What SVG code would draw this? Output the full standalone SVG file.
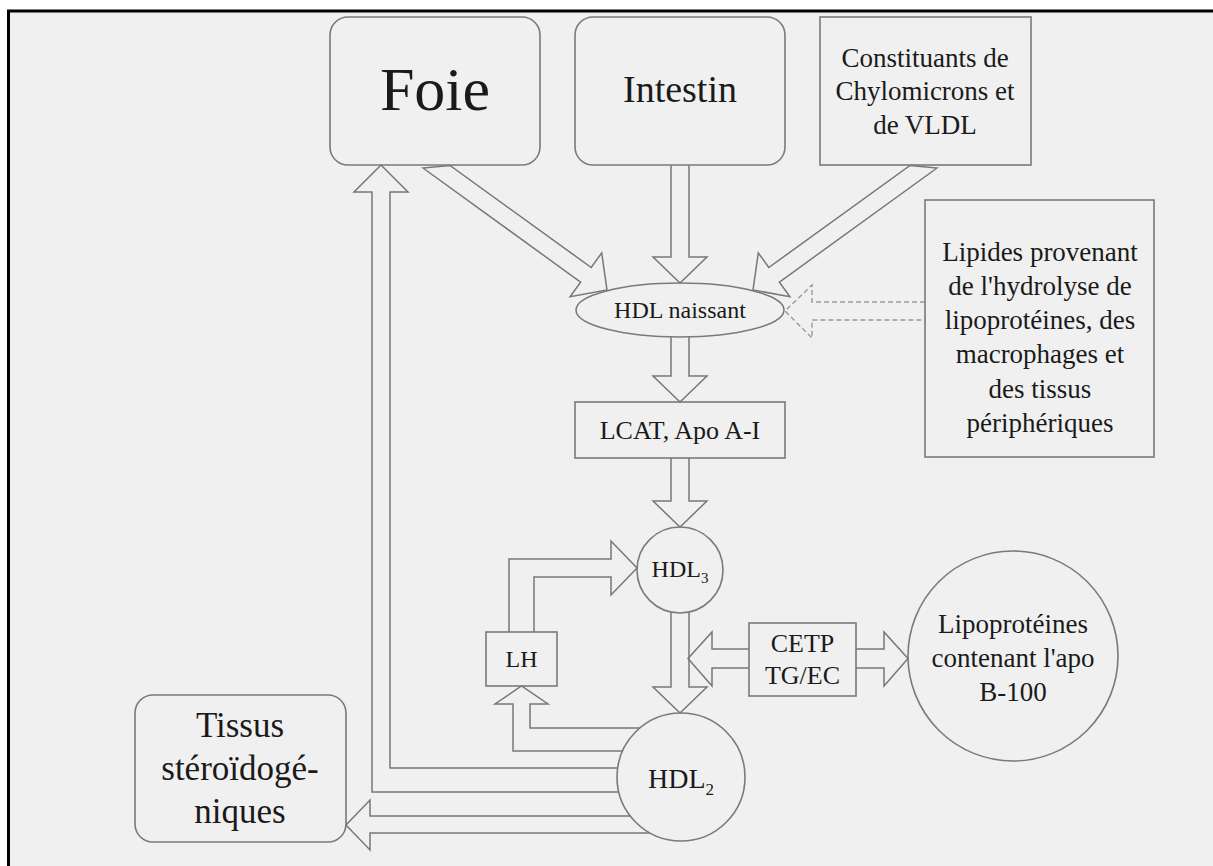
<svg xmlns="http://www.w3.org/2000/svg" width="1213" height="866" viewBox="0 0 1213 866">
<style>
.bx{fill:none;stroke:#7a7a7a;stroke-width:1.6}
.ar{fill:none;stroke:#777;stroke-width:1.5;stroke-linejoin:miter}
.da{fill:none;stroke:#999;stroke-width:1.4;stroke-dasharray:5 3}
.t{fill:#1a1a1a;text-anchor:middle}
</style>
<rect x="0" y="0" width="1213" height="866" fill="#ffffff"/>
<rect x="8" y="10" width="1205" height="856" fill="#f0f0f0"/>
<line x1="7" y1="11" x2="1213" y2="11" stroke="#000" stroke-width="3"/>
<line x1="8.5" y1="10" x2="8.5" y2="866" stroke="#000" stroke-width="3"/>

<g id="connectors">
<path class="ar" d="M423,168 L580.6,282.1 L570.1,296.7 L607,290 L601.7,252.9 L591.2,267.5 L450,165.5 Z"/>
<path class="ar" d="M937,168 L779.4,282.1 L789.9,296.7 L753,290 L758.3,252.9 L768.8,267.5 L910,165.5 Z"/>
<path class="ar" d="M671,165 L671,257 L653,257 L680,283 L707,257 L689,257 L689,165"/>
<path class="da" d="M925,302 L812,302 L812,285 L785,311 L812,338 L812,320 L925,320"/>
<path class="ar" d="M671,337 L671,376 L653,376 L680,402 L707,376 L689,376 L689,337"/>
<path class="ar" d="M671,458 L671,501 L653,501 L680,527 L707,501 L689,501 L689,458"/>
<path class="ar" d="M671,612 L671,687 L653,687 L680,713 L707,687 L689,687 L689,612"/>
<path class="ar" d="M749,649 L712,649 L712,632 L688,658.5 L712,686 L712,668 L749,668"/>
<path class="ar" d="M856,649 L884,649 L884,632 L908,658.5 L884,686 L884,668 L856,668"/>
<path class="ar" d="M509,632 L509,559 L611,559 L611,541 L637,568 L611,595 L611,577 L534,577 L534,632"/>
<path class="ar" d="M622.5,751 L513,751 L513,704 L495,704 L521.5,686 L548,704 L530,704 L530,728 L640,728"/>
<path class="ar" d="M618.8,792 L372,792 L372,192 L354,192 L381,165 L408,192 L390,192 L390,768 L617.6,768"/>
<path class="ar" d="M630,816 L370,816 L370,800 L346,825 L370,850 L370,833 L650,833"/>
</g>

<g font-family="'Liberation Serif', 'DejaVu Serif', serif">
<g id="foie">
<rect class="bx" x="330" y="17" width="210" height="148" rx="18"/>
<text class="t" x="435" y="110" font-size="62">Foie</text>
</g>
<g id="intestin">
<rect class="bx" x="575" y="17" width="210" height="148" rx="18"/>
<text class="t" x="680" y="102" font-size="38">Intestin</text>
</g>
<g id="constituants">
<rect class="bx" x="820" y="17" width="211" height="148"/>
<text class="t" x="925" y="67" font-size="27">Constituants de</text>
<text class="t" x="925" y="100" font-size="27">Chylomicrons et</text>
<text class="t" x="925" y="134" font-size="27">de VLDL</text>
</g>
<g id="lipides">
<rect class="bx" x="925" y="200" width="229" height="257"/>
<text class="t" x="1040" y="261" font-size="27">Lipides provenant</text>
<text class="t" x="1040" y="295" font-size="27">de l'hydrolyse de</text>
<text class="t" x="1040" y="329" font-size="27">lipoprotéines, des</text>
<text class="t" x="1040" y="363" font-size="27">macrophages et</text>
<text class="t" x="1040" y="398" font-size="27">des tissus</text>
<text class="t" x="1040" y="432" font-size="27">périphériques</text>
</g>
<g id="hdl-naissant">
<ellipse class="bx" cx="680" cy="310" rx="104" ry="27"/>
<text class="t" x="680" y="318" font-size="24">HDL naissant</text>
</g>
<g id="lcat">
<rect class="bx" x="575" y="402" width="210" height="56"/>
<text class="t" x="680" y="439" font-size="26">LCAT, Apo A-I</text>
</g>
<g id="hdl3">
<circle class="bx" cx="680" cy="570" r="43"/>
<text class="t" x="680" y="577" font-size="24">HDL<tspan font-size="15" dy="6">3</tspan></text>
</g>
<g id="lh">
<rect class="bx" x="486" y="632" width="71" height="54"/>
<text class="t" x="521.5" y="667" font-size="24">LH</text>
</g>
<g id="cetp">
<rect class="bx" x="749" y="623" width="107" height="73"/>
<text class="t" x="802.5" y="652" font-size="26">CETP</text>
<text class="t" x="802.5" y="684" font-size="26">TG/EC</text>
</g>
<g id="lipoproteines">
<circle class="bx" cx="1013" cy="656" r="105"/>
<text class="t" x="1013" y="633" font-size="27">Lipoprotéines</text>
<text class="t" x="1013" y="667" font-size="27">contenant l'apo</text>
<text class="t" x="1013" y="701" font-size="27">B-100</text>
</g>
<g id="hdl2">
<circle class="bx" cx="681" cy="777" r="64"/>
<text class="t" x="681" y="788" font-size="28">HDL<tspan font-size="17" dy="7">2</tspan></text>
</g>
<g id="tissus">
<rect class="bx" x="135" y="695" width="211" height="147" rx="18"/>
<text class="t" x="240" y="737" font-size="35">Tissus</text>
<text class="t" x="240" y="780" font-size="35">stéroïdogé-</text>
<text class="t" x="240" y="823" font-size="35">niques</text>
</g>
</g>
</svg>
